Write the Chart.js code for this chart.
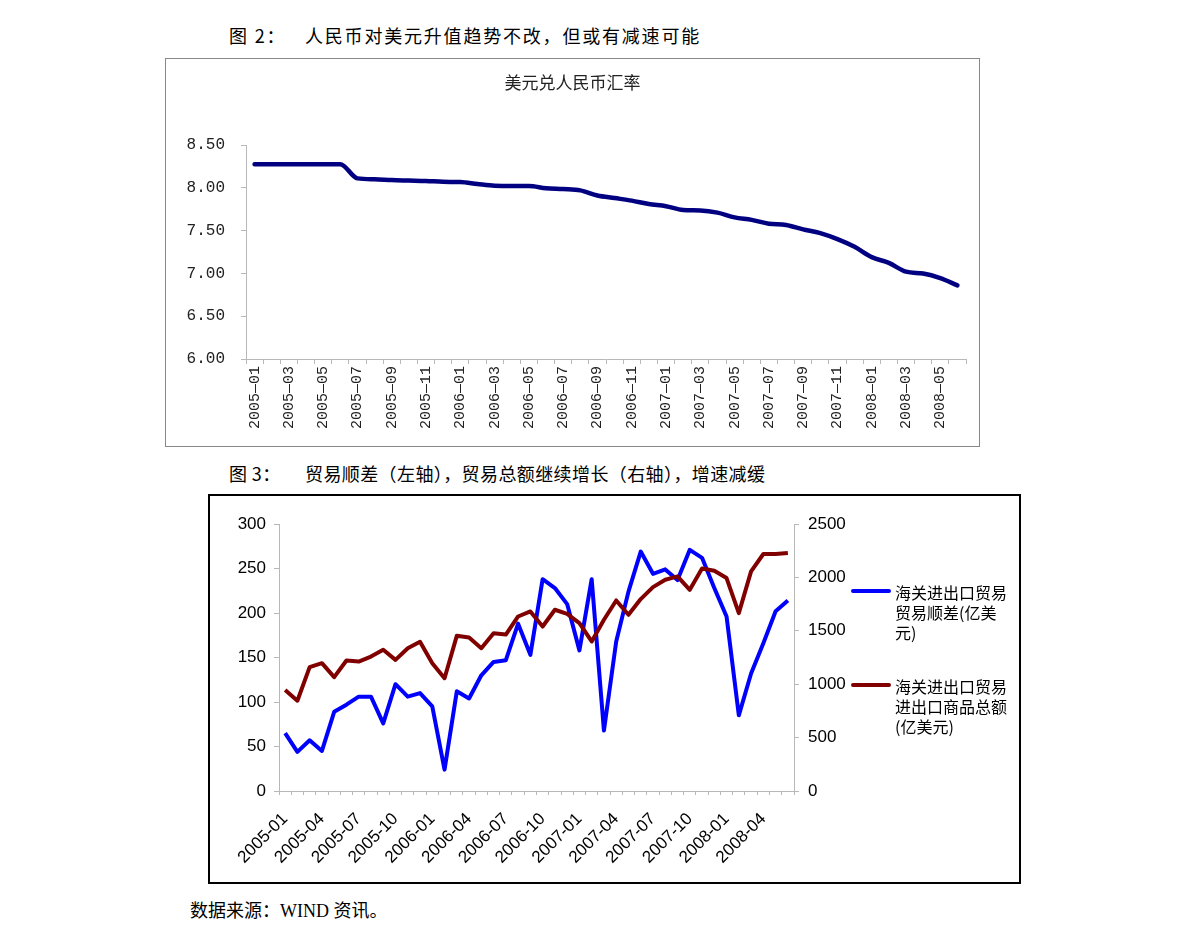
<!DOCTYPE html>
<html>
<head>
<meta charset="utf-8">
<script src="https://cdn.jsdelivr.net/npm/chart.js@4"></script>
<style>
  body { margin: 0; background: #fff; width: 1191px; height: 941px; position: relative; overflow: hidden; }
  .cap { position: absolute; font-family: "Noto Sans CJK SC", sans-serif; font-size: 18px; color: #000; white-space: nowrap; }
  .cap span { display: inline-block; width: 76px; }
  #box1 { position: absolute; left: 165px; top: 58px; width: 813px; height: 387px; border: 1px solid #888; }
  #box2 { position: absolute; left: 208px; top: 494px; width: 809px; height: 386px; border: 2px solid #000; }
  canvas { position: absolute; left: 0; top: 0; }
  #t1 { position: absolute; left: 0; width: 813px; top: 10px; text-align: center; font-family: "Noto Sans CJK SC", serif; font-size: 17px; color: #222; }
  .leg { position: absolute; font-family: "Noto Sans CJK SC", sans-serif; font-size: 16px; line-height: 16px; height: 16px; color: #000; white-space: nowrap; }
  .legline { position: absolute; height: 4px; width: 40px; border-radius: 2px; }
  #src { position: absolute; left: 190px; top: 896px; font-family: "Liberation Serif", "Noto Sans CJK SC", serif; font-size: 18px; }
</style>
</head>
<body>
<div class="cap" style="left:229px; top:22px; letter-spacing:1.8px;"><span>图 2：</span>人民币对美元升值趋势不改，但或有减速可能</div>
<div id="box1">
  <canvas id="chart1" width="813" height="387"></canvas>
  <div id="t1">美元兑人民币汇率</div>
</div>
<div class="cap" style="left:229px; top:460px; letter-spacing:0.4px;"><span>图 3：</span>贸易顺差（左轴），贸易总额继续增长（右轴），增速减缓</div>
<div id="box2">
  <canvas id="chart2" width="809" height="386"></canvas>
  <div class="legline" style="left:641px; top:93px; background:#0000ff;"></div>
  <div class="leg" style="left:685px; top:88px;">海关进出口贸易</div>
  <div class="leg" style="left:685px; top:108px;">贸易顺差(亿美</div>
  <div class="leg" style="left:685px; top:128px;">元)</div>
  <div class="legline" style="left:641px; top:187px; background:#800000;"></div>
  <div class="leg" style="left:685px; top:182px;">海关进出口贸易</div>
  <div class="leg" style="left:685px; top:202px;">进出口商品总额</div>
  <div class="leg" style="left:685px; top:222px;">(亿美元)</div>
</div>
<div id="src">数据来源：WIND 资讯。</div>

<script>
// 月份 2005-01 ~ 2008-06
const meses = [];
for (let a = 2005; a <= 2008; a++) {
  for (let m = 1; m <= 12; m++) {
    if (a === 2008 && m > 6) break;
    meses.push(a + "-" + String(m).padStart(2, "0"));
  }
}

// 美元兑人民币汇率
const tipoCambio = [
  8.2765, 8.2765, 8.2765, 8.2765, 8.2765, 8.2765, 8.11, 8.10, 8.09, 8.085,
  8.08, 8.07, 8.067, 8.045, 8.025, 8.02, 8.02, 7.995, 7.985, 7.97,
  7.91, 7.88, 7.85, 7.81, 7.785, 7.74, 7.735, 7.71, 7.655, 7.625,
  7.58, 7.565, 7.515, 7.47, 7.40, 7.31, 7.19, 7.123, 7.02, 6.998,
  6.945, 6.86
];

// 贸易顺差 (亿美元, 左轴)
const superavit = [
  65, 44, 57, 45, 89, 97, 106, 106, 76, 120,
  106, 110, 95, 24, 112, 104, 130, 145, 147, 188,
  153, 238, 228, 210, 158, 238, 68, 168, 224, 269,
  244, 249, 237, 271, 262, 228, 196, 85, 132, 166,
  202, 214
];

// 进出口商品总额 (亿美元, 右轴)
const comercioTotal = [
  945, 845, 1160, 1197, 1066, 1222, 1212, 1259, 1322, 1228,
  1337, 1397, 1197, 1056, 1453, 1437, 1337, 1478, 1465, 1634,
  1681, 1540, 1697, 1659, 1572, 1400, 1603, 1784, 1650, 1797,
  1909, 1978, 2009, 1884, 2084, 2062, 1994, 1666, 2056, 2219,
  2219, 2228
];

const gris = "#b8b8b8";

function fijarAncho(w) { return (scale) => { scale.width = w; }; }
function fijarAlto(h) { return (scale) => { scale.height = h; }; }

// 图 2
new Chart(document.getElementById("chart1"), {
  type: "line",
  data: {
    labels: meses,
    datasets: [{
      data: tipoCambio,
      borderColor: "#000080",
      borderWidth: 4.5,
      pointRadius: 0,
      cubicInterpolationMode: "monotone",
      borderCapStyle: "round",
      borderJoinStyle: "round",
    }],
  },
  options: {
    responsive: false,
    animation: false,
    layout: { padding: { top: 86, right: 13, left: 0, bottom: 0 } },
    plugins: { legend: { display: false }, tooltip: { enabled: false } },
    scales: {
      x: {
        offset: true,
        afterFit: fijarAlto(87),
        grid: { offset: true, drawOnChartArea: false, tickLength: 5, color: gris },
        border: { color: gris },
        ticks: {
          autoSkip: false, minRotation: 90, maxRotation: 90, padding: 2,
          color: "#222",
          font: { family: "Liberation Mono", size: 15 },
          callback: (v, i) => (i % 2 === 0 ? meses[i].replace("-", "—") : ""),
        },
      },
      y: {
        min: 6, max: 8.5,
        afterFit: fijarAncho(80),
        grid: { drawOnChartArea: false, tickLength: 5, color: gris },
        border: { color: gris },
        ticks: {
          stepSize: 0.5, padding: 16, color: "#222",
          font: { family: "Liberation Mono", size: 16 },
          callback: (v) => v.toFixed(2),
        },
      },
    },
  },
});

// 图 3
new Chart(document.getElementById("chart2"), {
  type: "line",
  data: {
    labels: meses,
    datasets: [
      {
        label: "海关进出口贸易贸易顺差(亿美元)",
        data: superavit,
        yAxisID: "y",
        borderColor: "#0000ff",
        borderWidth: 4,
        borderJoinStyle: "round",
        pointRadius: 0,
        tension: 0,
        order: 2,
      },
      {
        label: "海关进出口贸易进出口商品总额(亿美元)",
        data: comercioTotal,
        yAxisID: "y1",
        borderColor: "#800000",
        borderWidth: 4,
        borderJoinStyle: "round",
        pointRadius: 0,
        tension: 0,
        order: 1,
      },
    ],
  },
  options: {
    responsive: false,
    animation: false,
    layout: { padding: { top: 28, right: 165, left: 0, bottom: 0 } },
    plugins: { legend: { display: false }, tooltip: { enabled: false } },
    scales: {
      x: {
        offset: true,
        afterFit: fijarAlto(91),
        grid: { offset: true, drawOnChartArea: false, tickLength: 4, color: gris },
        border: { color: gris },
        ticks: {
          autoSkip: false, minRotation: 45, maxRotation: 45, padding: 14,
          color: "#000",
          font: { family: "Liberation Sans", size: 17 },
          callback: (v, i) => (i % 3 === 0 ? meses[i] : ""),
        },
      },
      y: {
        position: "left",
        min: 0, max: 300,
        afterFit: fijarAncho(69),
        grid: { drawOnChartArea: false, tickLength: 5, color: gris },
        border: { color: gris },
        ticks: {
          stepSize: 50, padding: 8, color: "#000",
          font: { family: "Liberation Sans", size: 17 },
          callback: (v) => String(v),
        },
      },
      y1: {
        position: "right",
        min: 0, max: 2500,
        afterFit: fijarAncho(60),
        grid: { drawOnChartArea: false, tickLength: 5, color: gris },
        border: { color: gris },
        ticks: {
          stepSize: 500, padding: 9, color: "#000",
          font: { family: "Liberation Sans", size: 17 },
          callback: (v) => String(v),
        },
      },
    },
  },
});
</script>
</body>
</html>
